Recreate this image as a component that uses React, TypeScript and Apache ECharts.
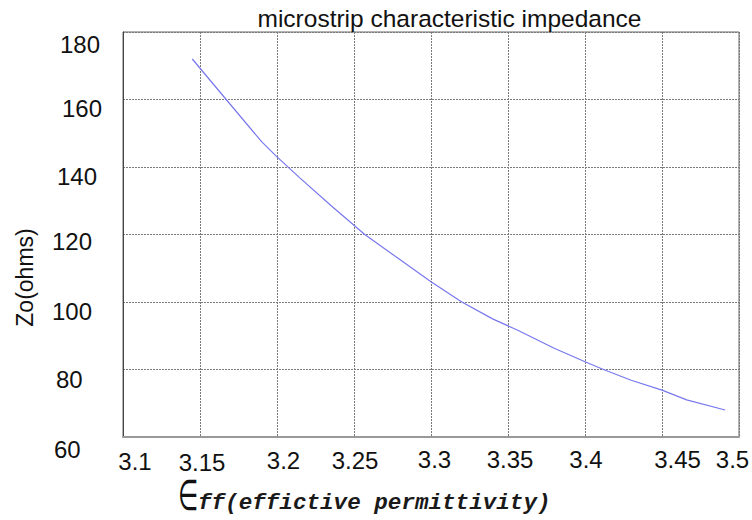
import React, { useEffect, useRef } from "react";
import * as echarts from "echarts";

// ---- data ----
const epsEff = [3.145, 3.167, 3.19, 3.2, 3.215, 3.235, 3.257, 3.28, 3.3, 3.32, 3.34, 3.356, 3.38, 3.4, 3.412, 3.43, 3.45, 3.466, 3.491];
const z0 = [172, 160, 147.5, 143, 136.7, 128.6, 120, 112.5, 106, 100, 95, 91.7, 86.3, 82.3, 80, 76.8, 73.9, 71, 68];
const xTickLabels = ["3.1", "3.15", "3.2", "3.25", "3.3", "3.35", "3.4", "3.45", "3.5"];
const yTickLabels = ["60", "80", "100", "120", "140", "160", "180"];
const titleText = "microstrip characteristic impedance";
const yName = "Zo(ohms)";
const xNameSymbol = "\u2208";
const xNameSub = "ff(effictive permittivity)";

// ---- label placement quirks of the reference (styling only) ----
const xLabelShift = [
  [12, 5], [2, 6], [6.5, 2], [1, 2], [3.5, 0], [2, 1], [1, 1], [15.5, 1], [-6.5, 1],
];
const yLabelShift = [
  [2, 12], [4, 10], [0, 9], [0, 7], [5, 9], [10, 9], [8, 12],
];

const SANS = "'Liberation Sans', Arial, sans-serif";

export default function App() {
  const ref = useRef<HTMLDivElement>(null);
  useEffect(() => {
    if (!ref.current) return;
    const chart = echarts.init(ref.current, undefined, { renderer: "svg" });

    const xRich: Record<string, any> = {};
    xLabelShift.forEach(([dx, dy], i) => {
      xRich["x" + i] = {
        fontSize: 24,
        fontFamily: SANS,
        color: "#111",
        lineHeight: 24,
        padding: [dy, dx < 0 ? -2 * dx : 0, 0, dx > 0 ? 2 * dx : 0],
      };
    });
    const yRich: Record<string, any> = {};
    yLabelShift.forEach(([dx, dy], i) => {
      yRich["y" + i] = {
        fontSize: 24,
        fontFamily: SANS,
        color: "#111",
        lineHeight: 24,
        padding: [2 * dy, 0, 0, dx],
      };
    });

    const option: any = {
      animation: false,
      backgroundColor: "#fff",
      grid: {
        left: 123,
        top: 32,
        right: 13,
        bottom: 83,
        containLabel: false,
        outerBoundsMode: "none",
        show: true,
        borderColor: "#666",
        borderWidth: 1,
      },
      xAxis: {
        type: "value",
        min: 3.1,
        max: 3.5,
        interval: 0.05,
        axisLine: { show: true, lineStyle: { color: "#999", width: 2 } },
        axisTick: { show: false },
        splitLine: { show: true, lineStyle: { color: "#7a7a7a", width: 1, type: [2, 1] } },
        axisLabel: {
          margin: 10,
          formatter: (_v: number, i: number) => `{x${i}|${xTickLabels[i] ?? ""}}`,
          rich: xRich,
          hideOverlap: false,
        },
      },
      yAxis: {
        type: "value",
        min: 60,
        max: 180,
        interval: 20,
        axisLine: { show: true, lineStyle: { color: "#444", width: 1 } },
        axisTick: { show: false },
        splitLine: { show: true, lineStyle: { color: "#7a7a7a", width: 1, type: [2, 1] } },
        axisLabel: {
          margin: 71,
          align: "left",
          formatter: (_v: number, i: number) => `{y${i}|${yTickLabels[i] ?? ""}}`,
          rich: yRich,
        },
      },
      series: [
        {
          type: "line",
          data: epsEff.map((x, i) => [x, z0[i]]),
          showSymbol: false,
          smooth: false,
          lineStyle: { color: "#7878ee", width: 1.2 },
          silent: true,
        },
      ],
      graphic: [
        {
          type: "text",
          x: 449.5,
          y: 18.5,
          style: {
            text: titleText,
            fontSize: 24.5,
            fontFamily: SANS,
            fill: "#111",
            align: "center",
            textAlign: "center",
            verticalAlign: "middle",
            textVerticalAlign: "middle",
          },
        },
        {
          type: "text",
          x: 25,
          y: 277.5,
          rotation: Math.PI / 2,
          style: {
            text: yName,
            fontSize: 23,
            fontFamily: SANS,
            fill: "#111",
            align: "center",
            textAlign: "center",
            verticalAlign: "middle",
            textVerticalAlign: "middle",
          },
        },
        {
          type: "text",
          x: 178,
          y: 495,
          scaleX: 0.68,
          scaleY: 1.25,
          style: {
            text: xNameSymbol,
            fontSize: 34,
            fontFamily: "'DejaVu Sans', sans-serif",
            fill: "#111",
            align: "left",
            textAlign: "left",
            verticalAlign: "middle",
            textVerticalAlign: "middle",
          },
        },
        {
          type: "text",
          x: 198,
          y: 503,
          style: {
            text: xNameSub,
            fontSize: 22.6,
            fontFamily: "'Liberation Mono', 'DejaVu Sans Mono', monospace",
            fontStyle: "italic",
            fontWeight: "bold",
            fill: "#1a1a1a",
            align: "left",
            textAlign: "left",
            verticalAlign: "middle",
            textVerticalAlign: "middle",
          },
        },
      ],
    };
    chart.setOption(option);
    return () => chart.dispose();
  }, []);
  return (
    <div
      ref={ref}
      style={{ position: "absolute", left: 0, top: 0, width: 752, height: 520, background: "#fff" }}
    />
  );
}
